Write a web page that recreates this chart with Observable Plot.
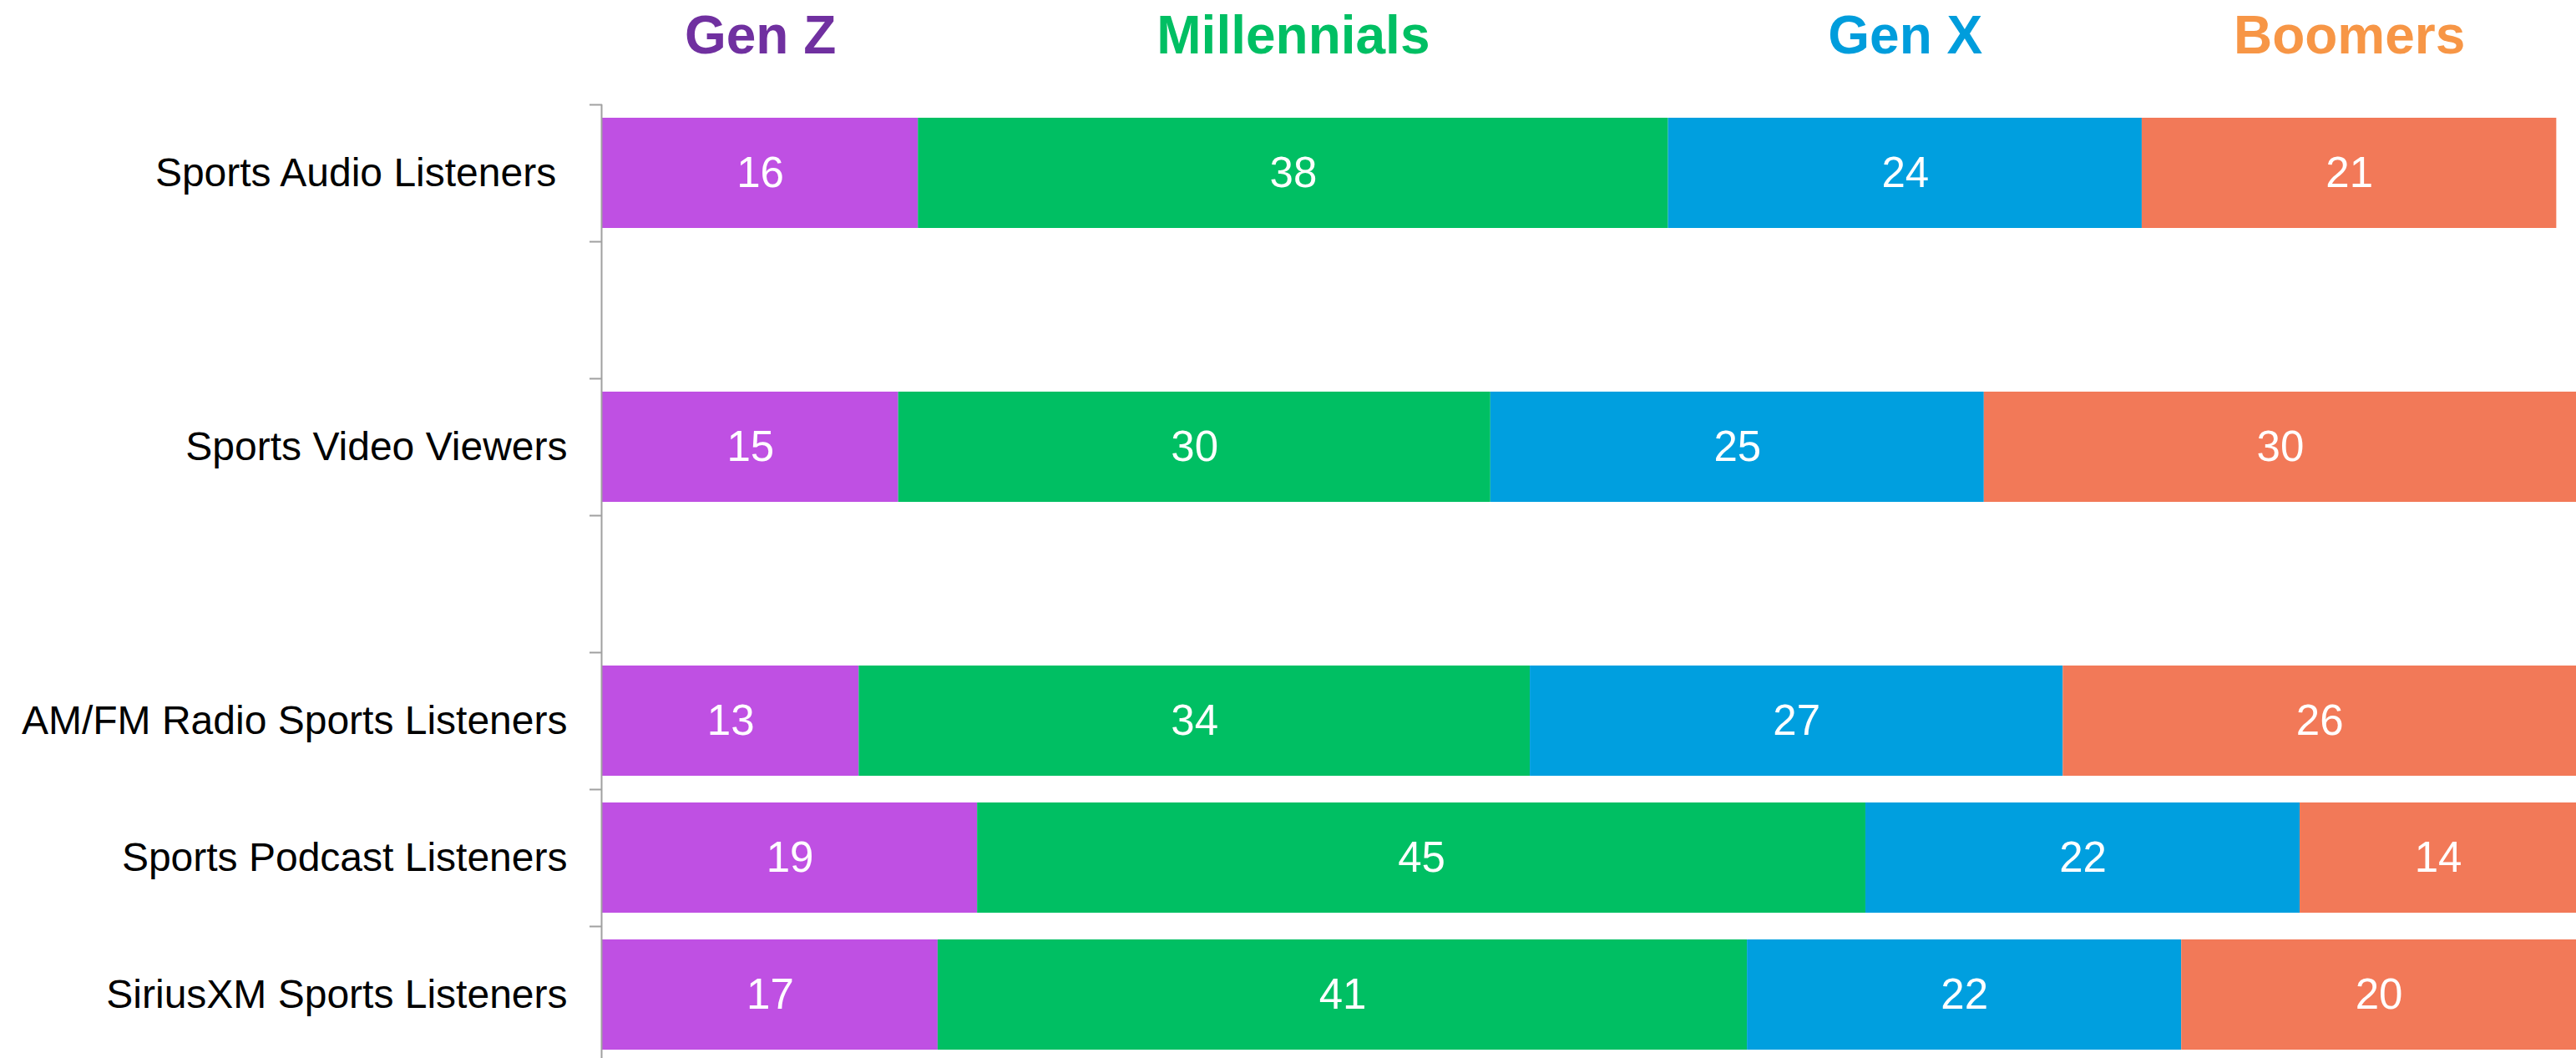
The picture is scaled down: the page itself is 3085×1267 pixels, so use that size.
<!DOCTYPE html>
<html>
<head>
<meta charset="utf-8">
<script src="https://cdn.jsdelivr.net/npm/d3@7"></script>
<script src="https://cdn.jsdelivr.net/npm/@observablehq/plot@0.6"></script>
<style>
  html, body { margin: 0; padding: 0; background: #ffffff; }
  #chart svg { display: block; }
</style>
</head>
<body>
<div id="chart"></div>
<script>
// ---- data ----
const categories = [
  "Sports Audio Listeners ",
  "Sports Video Viewers",
  "AM/FM Radio Sports Listeners",
  "Sports Podcast Listeners",
  "SiriusXM Sports Listeners"
];
const rowOrder = [categories[0], " ", categories[1], "  ", categories[2], categories[3], categories[4]];
const generations = ["Gen Z", "Millennials", "Gen X", "Boomers"];
const genZ        = [16, 15, 13, 19, 17];
const millennials = [38, 30, 34, 45, 41];
const genX        = [24, 25, 27, 22, 22];
const boomers     = [21, 30, 26, 14, 20];
const series = [genZ, millennials, genX, boomers];

const barColors   = ["#BF50E3", "#00BF63", "#009FDF", "#F27958"];
const titleColors = ["#7030A0", "#00BF63", "#009DDC", "#F79646"];

const data = categories.flatMap((c, i) =>
  generations.map((g, j) => ({category: c, generation: g, value: series[j][i]}))
);
const firstRow = data.filter(d => d.category === categories[0]);
const barColor = Object.fromEntries(generations.map((g, j) => [g, barColors[j]]));
const titleColor = Object.fromEntries(generations.map((g, j) => [g, titleColors[j]]));

// ---- layout ----
const W = 3085, H = 1267;
const plotTop = 125, step = 164, plotLeft = 721;
const yRange = [plotTop, plotTop + step * rowOrder.length];

const chart = Plot.plot({
  width: W,
  height: H,
  marginTop: plotTop,
  marginLeft: plotLeft,
  marginRight: 0,
  marginBottom: 0,
  style: {fontFamily: "'Liberation Sans', Arial, sans-serif", background: "#ffffff", whiteSpace: "pre", color: "#000"},
  x: {domain: [0, 100], range: [plotLeft, W], axis: null},
  y: {domain: rowOrder, range: yRange, padding: 0, axis: null},
  color: {type: "identity"},
  marks: [
    Plot.barX(data, Plot.stackX({
      x: "value", y: "category",
      fill: d => barColor[d.generation],
      insetTop: 16, insetBottom: 16
    })),
    Plot.text(data, Plot.stackX({
      x: "value", y: "category",
      text: d => String(d.value),
      fill: "white", fontSize: 51
    })),
    Plot.text(firstRow, Plot.stackX({
      x: "value",
      text: "generation",
      fill: d => titleColor[d.generation],
      frameAnchor: "top", dy: -62, lineAnchor: "bottom",
      fontSize: 64, fontWeight: "bold"
    })),
    Plot.axisY({tickSize: 0, tickPadding: 42, fontSize: 48, fill: "#000", stroke: "none", label: null}),
    Plot.axisY({tickSize: 15, dy: -step / 2, stroke: "#A0A0A0", strokeWidth: 2, fill: "none", label: null, tickFormat: () => ""}),
    Plot.ruleX([0], {stroke: "#A0A0A0", strokeWidth: 2, dx: -1})
  ]
});

document.getElementById("chart").appendChild(chart);
</script>
</body>
</html>
